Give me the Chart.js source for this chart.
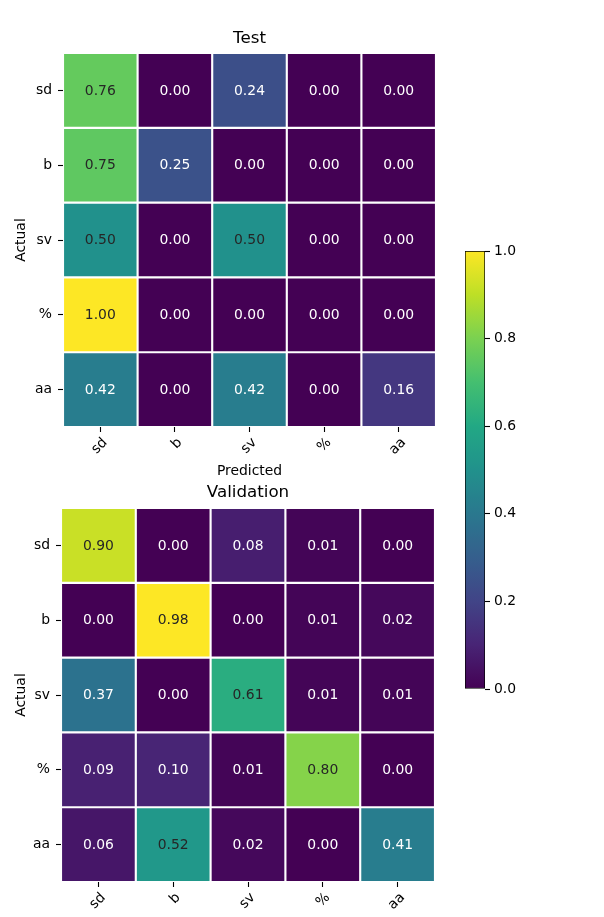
<!DOCTYPE html>
<html><head><meta charset="utf-8">
<script src="https://cdn.jsdelivr.net/npm/chart.js@4.4.0/dist/chart.umd.min.js"></script>
<style>
html,body{margin:0;padding:0;background:#fff;overflow:hidden;width:604px;height:917px;position:relative;}
canvas{position:absolute;}
</style></head><body>
<canvas id="c1" width="604" height="480" style="left:0;top:0;width:604px;height:480px"></canvas>
<canvas id="c2" width="604" height="480" style="left:0;top:460px;width:604px;height:480px"></canvas>
<canvas id="c3" width="100" height="480" style="left:440px;top:230px;width:100px;height:480px"></canvas>
<script>
const classLabels = ['sd', 'b', 'sv', '%', 'aa'];
const testTitle = 'Test';
const valTitle = 'Validation';
const testValues = [
  [0.76, 0.00, 0.24, 0.00, 0.00],
  [0.75, 0.25, 0.00, 0.00, 0.00],
  [0.50, 0.00, 0.50, 0.00, 0.00],
  [1.00, 0.00, 0.00, 0.00, 0.00],
  [0.42, 0.00, 0.42, 0.00, 0.16]
];
const valValues = [
  [0.90, 0.00, 0.08, 0.01, 0.00],
  [0.00, 0.98, 0.00, 0.01, 0.02],
  [0.37, 0.00, 0.61, 0.01, 0.01],
  [0.09, 0.10, 0.01, 0.80, 0.00],
  [0.06, 0.52, 0.02, 0.00, 0.41]
];
const colorbarTicks = [0.0, 0.2, 0.4, 0.6, 0.8, 1.0];

const VIRIDIS = ['#440154','#482475','#414487','#355f8d','#2a788e','#21918c','#22a884','#44bf70','#7ad151','#bddf26','#fde725'];
function hexToRgb(h){return [parseInt(h.slice(1,3),16),parseInt(h.slice(3,5),16),parseInt(h.slice(5,7),16)];}
function viridis(t){
  t = Math.max(0, Math.min(1, t));
  const p = t * (VIRIDIS.length - 1);
  const i = Math.min(Math.floor(p), VIRIDIS.length - 2);
  const f = p - i;
  const a = hexToRgb(VIRIDIS[i]), b = hexToRgb(VIRIDIS[i+1]);
  const c = a.map((v, k) => Math.round(v + (b[k] - v) * f));
  return 'rgb(' + c.join(',') + ')';
}

const FONT = 'DejaVu Sans';
const tickFont = {family: FONT, size: 13.9};
const titleFont = {family: FONT, size: 16.7, weight: 'normal'};

const cellTextPlugin = {
  id: 'cellText',
  afterDatasetsDraw(chart, args, opts) {
    const ctx = chart.ctx;
    ctx.save();
    ctx.font = '13.9px "DejaVu Sans"';
    ctx.textAlign = 'center';
    ctx.textBaseline = 'middle';
    chart.data.datasets.forEach((ds, di) => {
      const meta = chart.getDatasetMeta(di);
      meta.data.forEach((el, i) => {
        const v = ds.cellValues[i];
        ctx.fillStyle = v >= opts.thresh ? '#262626' : '#ffffff';
        ctx.fillText(v.toFixed(2), el.x, (el.y + el.base) / 2 + 0.5);
      });
    });
    ctx.restore();
  }
};

function heatmap(canvasId, values, title, geom) {
  const flat = values.flat();
  const vmin = Math.min(...flat), vmax = Math.max(...flat);
  const datasets = values.map((row, r) => ({
    label: classLabels[r],
    data: row.map(() => [r, r + 1]),
    cellValues: row,
    backgroundColor: row.map(v => viridis((v - vmin) / (vmax - vmin))),
    borderColor: '#ffffff',
    borderWidth: 1.4,
    borderSkipped: false,
    barPercentage: 1,
    categoryPercentage: 1,
    grouped: false
  }));
  return new Chart(document.getElementById(canvasId), {
    type: 'bar',
    data: {labels: classLabels, datasets},
    plugins: [cellTextPlugin],
    options: {
      responsive: false,
      animation: false,
      devicePixelRatio: 1,
      layout: {padding: {left: 0, right: geom.right, top: 0, bottom: geom.bottom}},
      plugins: {
        legend: {display: false},
        tooltip: {enabled: false},
        title: {display: true, text: title, font: titleFont, color: '#000', fullSize: false,
                padding: {top: geom.titleTop, bottom: geom.titleBottom}},
        cellText: {thresh: (vmax + vmin) / 2}
      },
      scales: {
        x: {
          type: 'category',
          offset: true,
          grid: {offset: false, drawOnChartArea: false, drawTicks: true, tickLength: 5, tickColor: '#000', tickWidth: 1.1},
          border: {display: false},
          ticks: {maxRotation: 45, minRotation: 45, labelOffset: 5, padding: 2.5, color: '#000', font: tickFont, autoSkip: false},
          title: {display: true, text: 'Predicted', color: '#000', font: tickFont, padding: {top: 0, bottom: 0.7}},
          afterFit: s => { s.height = 53; }
        },
        y: {
          type: 'linear',
          min: 0, max: 5, reverse: true,
          afterBuildTicks: s => { s.ticks = classLabels.map((_, i) => ({value: i + 0.5})); },
          ticks: {callback: v => classLabels[Math.floor(v)], padding: 6, color: '#000', font: tickFont, autoSkip: false},
          grid: {drawOnChartArea: false, drawTicks: true, tickLength: 5, tickColor: '#000', tickWidth: 1.1},
          border: {display: false},
          title: {display: true, text: 'Actual', color: '#000', font: tickFont, padding: {top: 12.7, bottom: 0}},
          afterFit: s => { s.width = geom.left; }
        }
      }
    }
  });
}

heatmap('c1', testValues, testTitle, {left: 63, right: 168, bottom: 0, titleTop: 28.5, titleBottom: 4.5});
heatmap('c2', valValues, valTitle, {left: 61, right: 169, bottom: 5, titleTop: 23, titleBottom: 5});

new Chart(document.getElementById('c3'), {
  type: 'bar',
  data: {labels: [''], datasets: [{
    data: [[colorbarTicks[0], colorbarTicks[colorbarTicks.length - 1]]],
    backgroundColor: (ctx) => {
      const a = ctx.chart.chartArea;
      if (!a) return VIRIDIS[5];
      const g = ctx.chart.ctx.createLinearGradient(0, a.bottom, 0, a.top);
      for (let i = 0; i <= 50; i++) g.addColorStop(i / 50, viridis(i / 50));
      return g;
    },
    borderColor: '#000', borderWidth: 1, borderSkipped: false,
    barPercentage: 1, categoryPercentage: 1
  }]},
  options: {
    responsive: false, animation: false, devicePixelRatio: 1,
    layout: {padding: {left: 25, top: 21, bottom: 21, right: 0}},
    plugins: {legend: {display: false}, tooltip: {enabled: false}},
    scales: {
      x: {display: false, offset: true},
      y: {
        position: 'right', min: 0, max: 1,
        afterBuildTicks: s => { s.ticks = colorbarTicks.map(v => ({value: v})); },
        ticks: {callback: v => v.toFixed(1), padding: 4, color: '#000', font: tickFont},
        grid: {drawOnChartArea: false, drawTicks: true, tickLength: 5, tickColor: '#000', tickWidth: 1.1},
        border: {display: false},
        afterFit: s => { s.width = 55; }
      }
    }
  }
});
</script>
</body></html>
